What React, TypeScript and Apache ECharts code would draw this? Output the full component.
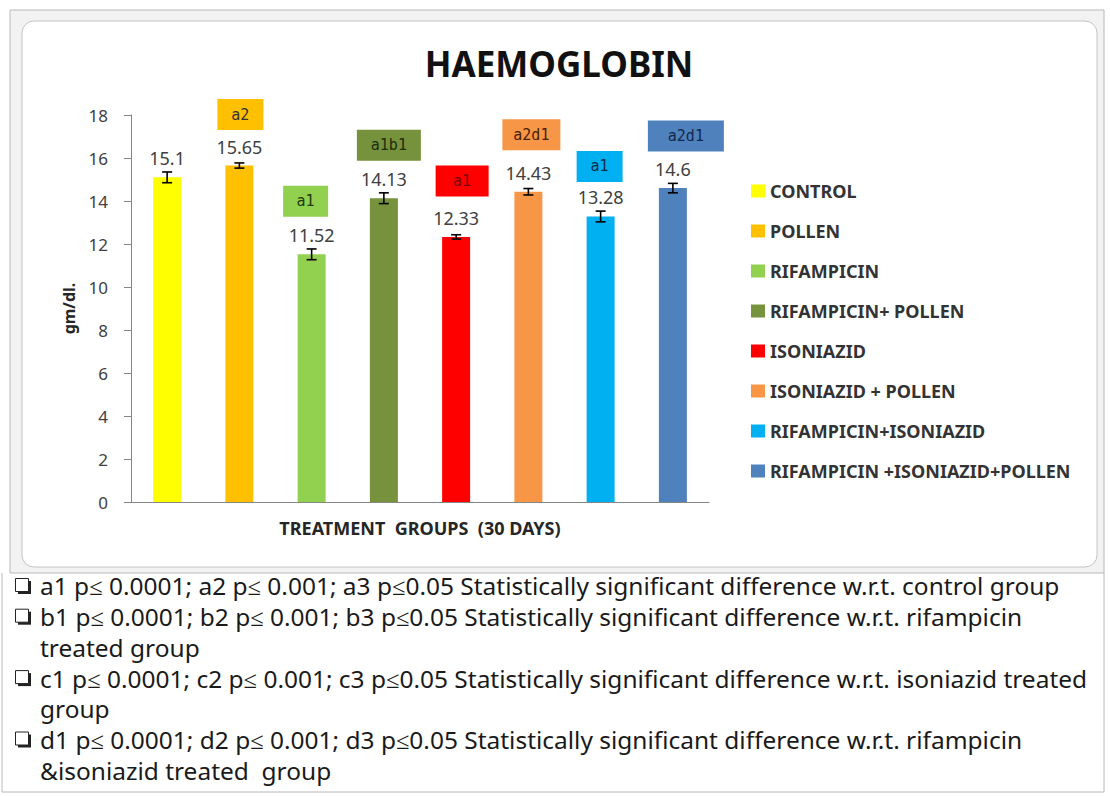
import React, { useEffect, useRef } from "react";
import * as echarts from "echarts";

// ---- data ----
const categories = [
  "CONTROL",
  "POLLEN",
  "RIFAMPICIN",
  "RIFAMPICIN+ POLLEN",
  "ISONIAZID",
  "ISONIAZID + POLLEN",
  "RIFAMPICIN+ISONIAZID",
  "RIFAMPICIN +ISONIAZID+POLLEN",
];
const values = [15.1, 15.65, 11.52, 14.13, 12.33, 14.43, 13.28, 14.6];
const errors = [0.25, 0.12, 0.25, 0.25, 0.1, 0.15, 0.25, 0.22];
const sigLabels = ["", "a2", "a1", "a1b1", "a1", "a2d1", "a1", "a2d1"];
const yMin = 0;
const yMax = 18;
const yInterval = 2;
const titleText = "HAEMOGLOBIN";
const yAxisTitle = "gm/dl.";
const xAxisTitle = "TREATMENT  GROUPS  (30 DAYS)";
const footnoteLines = [
  "a1 p≤ 0.0001; a2 p≤ 0.001; a3 p≤0.05 Statistically significant difference w.r.t. control group",
  "b1 p≤ 0.0001; b2 p≤ 0.001; b3 p≤0.05 Statistically significant difference w.r.t. rifampicin",
  "treated group",
  "c1 p≤ 0.0001; c2 p≤ 0.001; c3 p≤0.05 Statistically significant difference w.r.t. isoniazid treated",
  "group",
  "d1 p≤ 0.0001; d2 p≤ 0.001; d3 p≤0.05 Statistically significant difference w.r.t. rifampicin",
  "&isoniazid treated  group",
];
const footnoteBullets = [true, true, false, true, false, true, false];

// ---- styles ----
const barColors = ["#FFFF00", "#FFC000", "#92D050", "#76923C", "#FF0000", "#F79646", "#00B0F0", "#4F81BD"];
const boxFill = ["", "#FFC000", "#92D050", "#76923C", "#FF0000", "#F79646", "#00B0F0", "#4F81BD"];
const boxText = ["", "#333333", "#1E3A0A", "#1F2F10", "#7A0000", "#4A2000", "#0A2A4A", "#13294B"];
const boxW = [0, 46, 45, 64, 53, 58, 46, 76];
const boxDx = [0, 1, -6, 5, 6, 3, -1, 13];
const boxDy = [0, 51, 53, 53, 56, 57, 50, 52];
const boxH = 31;

export default function App() {
  const ref = useRef<HTMLDivElement>(null);

  useEffect(() => {
    if (!ref.current) return;
    const chart = echarts.init(ref.current, undefined, { renderer: "svg" });

    const barSeries = categories.map((name, i) => ({
      type: "bar",
      name,
      data: categories.map((_, j) => (j === i ? values[i] : "-")),
      barWidth: 28,
      barGap: "-100%",
      itemStyle: { color: barColors[i] },
      label: {
        show: true,
        position: "top",
        distance: 10,
        fontSize: 18,
        color: "#404040",
        fontFamily: "Noto Sans",
      },
      z: 2,
    }));

    const customSeries = {
      type: "custom",
      name: "errors",
      data: categories.map((_, i) => [i, values[i], errors[i]]),
      z: 5,
      renderItem: (params: any, api: any) => {
        const i = params.dataIndex;
        const v = api.value(1);
        const e = api.value(2);
        const pt = api.coord([i, v]);
        const x = pt[0];
        const yv = pt[1];
        const yTop = api.coord([i, v + e])[1];
        const yBot = api.coord([i, v - e])[1];
        const ls = { stroke: "#000", lineWidth: 1.6 };
        const children: any[] = [
          { type: "line", shape: { x1: x, y1: yTop, x2: x, y2: yBot }, style: ls },
          { type: "line", shape: { x1: x - 5, y1: yTop, x2: x + 5, y2: yTop }, style: ls },
          { type: "line", shape: { x1: x - 5, y1: yBot, x2: x + 5, y2: yBot }, style: ls },
        ];
        const sig = sigLabels[i];
        if (sig) {
          const cx = x + boxDx[i];
          const cy = yv - boxDy[i];
          children.push({
            type: "rect",
            shape: { x: cx - boxW[i] / 2, y: cy - boxH / 2, width: boxW[i], height: boxH },
            style: { fill: boxFill[i] },
          });
          children.push({
            type: "text",
            x: cx,
            y: cy,
            style: {
              text: sig,
              fill: boxText[i],
              fontSize: 15,
              fontFamily: "DejaVu Sans Mono",
              align: "center",
              verticalAlign: "middle",
            },
          });
        }
        return { type: "group", children };
      },
    };

    const graphics: any[] = [
      {
        type: "rect",
        shape: { x: 10, y: 10, width: 1094, height: 563 },
        style: { fill: "#f2f2f2", stroke: "#b8b8b8", lineWidth: 1 },
        z: -10,
      },
      {
        type: "rect",
        shape: { x: 22, y: 21, width: 1075, height: 546, r: 12 },
        style: { fill: "#ffffff", stroke: "#c4c4c4", lineWidth: 1 },
        z: -9,
      },
      {
        type: "polyline",
        shape: { points: [[2, 573], [2, 792], [1104, 792], [1104, 573]] },
        style: { stroke: "#b8b8b8", fill: null, lineWidth: 1 },
        z: -10,
      },
      {
        type: "text",
        x: 559,
        y: 63,
        style: {
          text: titleText,
          fontSize: 35,
          fontWeight: "bold",
          fontFamily: "Noto Sans",
          fill: "#111111",
          align: "center",
          verticalAlign: "middle",
        },
      },
    ];

    const lineY0 = 586;
    const lineStep = 30.7;
    footnoteLines.forEach((t, k) => {
      const y = lineY0 + k * lineStep;
      if (footnoteBullets[k]) {
        graphics.push({
          type: "rect",
          shape: { x: 18, y: y - 5, width: 13, height: 13 },
          style: { fill: "#222222" },
        });
        graphics.push({
          type: "rect",
          shape: { x: 15.5, y: y - 7.5, width: 13, height: 13 },
          style: { fill: "#ffffff", stroke: "#222222", lineWidth: 1 },
        });
      }
      graphics.push({
        type: "text",
        x: 40,
        y,
        scaleX: 1.02,
        style: {
          text: t,
          fontSize: 24,
          fontFamily: "Noto Sans",
          fill: "#1a1a1a",
          align: "left",
          verticalAlign: "middle",
        },
      });
    });

    chart.setOption({
      animation: false,
      backgroundColor: "#ffffff",
      grid: { left: 131, right: 401, top: 115, bottom: 294 },
      legend: {
        data: categories,
        orient: "vertical",
        left: 746,
        top: 175,
        itemWidth: 14,
        itemHeight: 13,
        itemGap: 18,
        icon: "rect",
        textStyle: { fontSize: 18, fontWeight: "bold", color: "#333333", fontFamily: "Noto Sans", lineHeight: 22 },
      },
      xAxis: {
        type: "category",
        data: categories,
        axisLabel: { show: false },
        axisTick: { show: false },
        axisLine: { show: true, lineStyle: { color: "#868686", width: 1 } },
        name: xAxisTitle,
        nameLocation: "middle",
        nameGap: 17,
        nameTextStyle: { fontSize: 18, fontWeight: "bold", color: "#262626", fontFamily: "Noto Sans" },
      },
      yAxis: {
        type: "value",
        min: yMin,
        max: yMax,
        interval: yInterval,
        splitLine: { show: false },
        axisLine: { show: true, lineStyle: { color: "#868686", width: 1 } },
        axisTick: { show: true, length: 7, lineStyle: { color: "#868686" } },
        axisLabel: { fontSize: 17, color: "#404040", margin: 23, fontFamily: "Noto Sans" },
        name: yAxisTitle,
        nameLocation: "middle",
        nameGap: 54,
        nameTextStyle: { fontSize: 16, fontWeight: "bold", color: "#262626", fontFamily: "Noto Sans" },
      },
      graphic: graphics,
      series: [...barSeries, customSeries],
    });

    return () => chart.dispose();
  }, []);

  return (
    <div
      ref={ref}
      style={{ position: "absolute", left: 0, top: 0, width: 1110, height: 796 }}
    />
  );
}
